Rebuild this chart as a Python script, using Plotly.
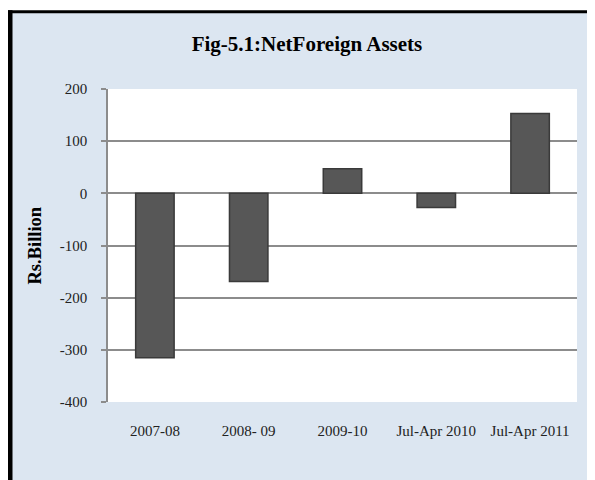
import plotly.graph_objects as go

categories = ["2007-08", "2008- 09", "2009-10", "Jul-Apr 2010", "Jul-Apr 2011"]
values = [-315, -169, 47, -27, 153]
y_ticks = [-400, -300, -200, -100, 0, 100, 200]

OFF = 8  # page body margin
W, H = 595 - OFF, 480 - OFF
L, R, T, B = 100, 18, 81, 78
PW, PH = W - L - R, H - T - B

def px(x):
    return (x - OFF - L) / PW

def py(y):
    return (H - B - (y - OFF)) / PH

fig = go.Figure()
fig.add_trace(go.Bar(
    x=categories, y=values, width=0.41,
    marker=dict(color="#575757", line=dict(color="#3a3a3a", width=1.5)),
))

grid = "#8c8c8c"
shapes = [
    dict(type="rect", xref="paper", yref="paper", x0=px(10), x1=px(596), y0=py(481), y1=py(12),
         fillcolor="#DCE6F1", line=dict(width=0), layer="below"),
    dict(type="rect", xref="paper", yref="paper", x0=0, x1=1, y0=0, y1=1,
         fillcolor="white", line=dict(width=0), layer="below"),
    dict(type="rect", xref="paper", yref="paper", x0=px(8), x1=px(596), y0=py(13.2), y1=py(10.2),
         fillcolor="black", line=dict(width=0), layer="above"),
    dict(type="rect", xref="paper", yref="paper", x0=px(7.5), x1=px(12.5), y0=py(481), y1=py(10.2),
         fillcolor="black", line=dict(width=0), layer="above"),
]

fig.update_layout(
    width=W, height=H,
    margin=dict(l=L, r=R, t=T, b=B),
    paper_bgcolor="white", plot_bgcolor="rgba(0,0,0,0)",
    showlegend=False,
    font=dict(family="Liberation Serif", color="#222222"),
    title=dict(text="<b>Fig-5.1:NetForeign Assets</b>", xref="container", yref="container",
               x=(307 - OFF) / W, y=1 - (44 - OFF) / H, xanchor="center", yanchor="middle",
               font=dict(size=21, family="Liberation Serif", color="black")),
    shapes=shapes,
    annotations=[dict(text="<b>Rs.Billion</b>", xref="paper", yref="paper", x=px(34), y=0.5,
                      textangle=-90, showarrow=False, xanchor="center", yanchor="middle",
                      font=dict(size=18.5, family="Liberation Serif", color="black"))],
)
fig.update_yaxes(range=[-400, 200], tickvals=y_ticks, ticktext=[str(v) for v in y_ticks],
                 showgrid=True, gridcolor=grid, gridwidth=1.5,
                 zeroline=True, zerolinecolor=grid, zerolinewidth=1.5,
                 showline=True, linecolor=grid, linewidth=1.5,
                 ticks="outside", ticklen=5, tickcolor=grid, tickwidth=1.5,
                 ticklabelstandoff=11, tickfont=dict(size=15, family="Liberation Serif", color="#222222"))
fig.update_xaxes(type="category", showgrid=False, showline=False, ticks="", ticklabelstandoff=18,
                 tickfont=dict(size=15, family="Liberation Serif", color="#222222"))

fig.write_html("out.html", config={"displayModeBar": False},
               post_script="document.body.style.overflow='hidden';")
